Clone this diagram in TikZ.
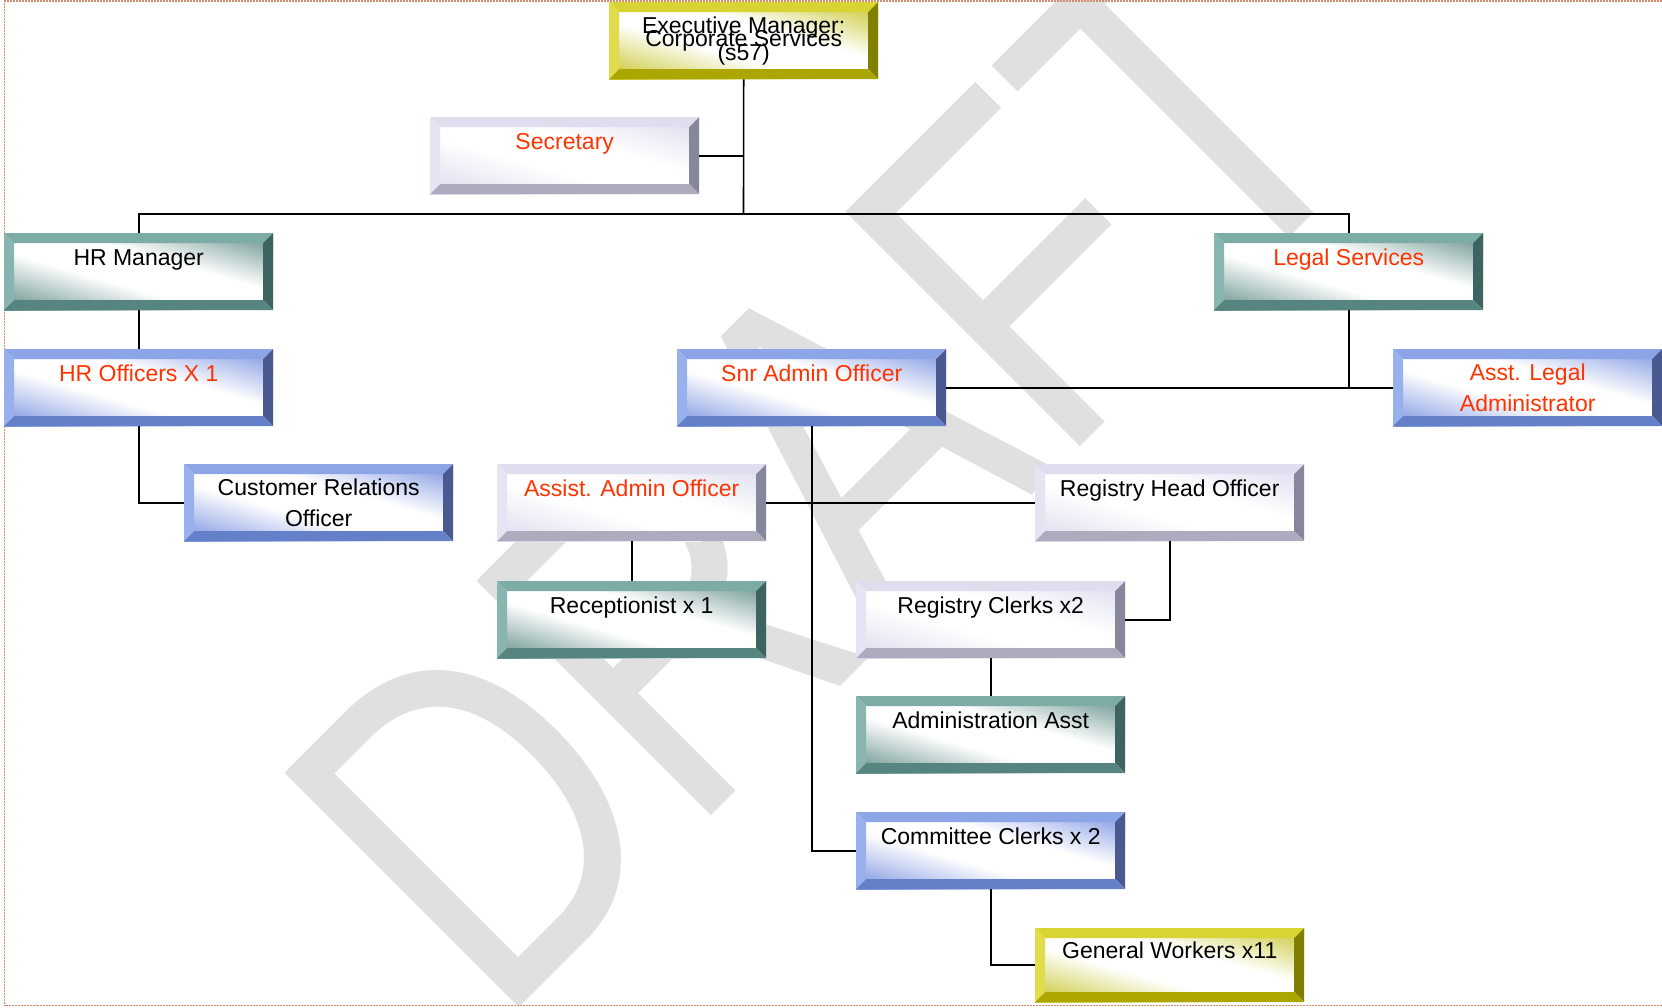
\documentclass[tikz,border=0pt]{standalone}
\usepackage{fontspec}
\setmainfont{Liberation Sans}
\usetikzlibrary{calc,positioning}
\definecolor{orgred}{RGB}{255,51,0}
\definecolor{yTop}{RGB}{216,212,52}
\definecolor{yLeft}{RGB}{224,220,76}
\definecolor{yRight}{RGB}{128,128,0}
\definecolor{yBot}{RGB}{172,166,0}
\definecolor{yFill}{RGB}{198,196,40}
\definecolor{bTop}{RGB}{140,165,230}
\definecolor{bLeft}{RGB}{152,176,236}
\definecolor{bRight}{RGB}{74,90,144}
\definecolor{bBot}{RGB}{100,128,200}
\definecolor{bFill}{RGB}{120,145,225}
\definecolor{tTop}{RGB}{125,172,166}
\definecolor{tLeft}{RGB}{136,181,176}
\definecolor{tRight}{RGB}{62,100,98}
\definecolor{tBot}{RGB}{86,132,128}
\definecolor{tFill}{RGB}{95,140,135}
\definecolor{lTop}{RGB}{222,222,238}
\definecolor{lLeft}{RGB}{228,228,242}
\definecolor{lRight}{RGB}{135,135,155}
\definecolor{lBot}{RGB}{172,172,190}
\definecolor{lFill}{RGB}{218,218,238}
\definecolor{framec}{RGB}{212,140,108}
\colorlet{bevfillc}{white}
\newcommand\bvw{10pt}

\begin{document}
\begin{tikzpicture}[
    x=1pt, y=-1pt,
    bevel/.style n args={5}{rectangle, anchor=north west, inner sep=0pt,
        minimum width=269pt, minimum height=77pt, align=center,
        font=\fontsize{23}{31}\selectfont, fill=white,
        path picture={
            \path (path picture bounding box.north west) coordinate (pnw)
                  (path picture bounding box.south east) coordinate (pse)
                  (path picture bounding box.center) coordinate (pc);
            \colorlet{bevfillc}{#5}
            % diagonal gradient: white along the box diagonal, colour in two corners
            \foreach \k in {0,...,27} {
                \pgfmathsetmacro\pct{100*(\k+0.5)/28}
                \pgfmathsetmacro\da{18+56*\k/28}
                \pgfmathsetmacro\db{18+56*(\k+1)/28+0.6}
                \fill[bevfillc!\pct!white] ($(pc)+(164:160pt)+(74:\da pt)$) -- ($(pc)+(-16:160pt)+(74:\da pt)$)
                    -- ($(pc)+(-16:160pt)+(74:\db pt)$) -- ($(pc)+(164:160pt)+(74:\db pt)$) -- cycle;
                \fill[bevfillc!\pct!white] ($(pc)+(164:160pt)+(254:\da pt)$) -- ($(pc)+(-16:160pt)+(254:\da pt)$)
                    -- ($(pc)+(-16:160pt)+(254:\db pt)$) -- ($(pc)+(164:160pt)+(254:\db pt)$) -- cycle;
            }
            \fill[#1] (pnw) -- (pnw -| pse) -- ($(pnw -| pse)+(-\bvw,-\bvw)$) -- ($(pnw)+(\bvw,-\bvw)$) -- cycle;
            \fill[#2] (pnw) -- ($(pnw)+(\bvw,-\bvw)$) -- ($(pnw |- pse)+(\bvw,\bvw)$) -- (pnw |- pse) -- cycle;
            \fill[#3] (pnw -| pse) -- (pse) -- ($(pse)+(-\bvw,\bvw)$) -- ($(pnw -| pse)+(-\bvw,-\bvw)$) -- cycle;
            \fill[#4] (pnw |- pse) -- (pse) -- ($(pse)+(-\bvw,\bvw)$) -- ($(pnw |- pse)+(\bvw,\bvw)$) -- cycle;
        }},
    yellowbox/.style={bevel={yTop}{yLeft}{yRight}{yBot}{yFill}},
    bluebox/.style={bevel={bTop}{bLeft}{bRight}{bBot}{bFill}},
    tealbox/.style={bevel={tTop}{tLeft}{tRight}{tBot}{tFill}},
    lavbox/.style={bevel={lTop}{lLeft}{lRight}{lBot}{lFill}},
    oneline/.style={text height=17pt, text depth=30pt},
    conn/.style={line width=1.6pt, black},
    frame/.style={framec, line width=1.2pt, dash pattern=on 2pt off 1pt},
    watermark/.style={font=\fontsize{482}{482}\selectfont, text=black!12,
        inner sep=0pt, anchor=base west, rotate=45, xscale=.78}
]
\useasboundingbox (0,0) rectangle (1662,1007);

% watermark
\begin{scope}
\clip (0,0) rectangle (1662,1007);
\node[watermark] (draft) at (497,1030) {DRAFT};
\end{scope}
\draw[frame] (1662,1) -- (4.5,1) -- (4.5,1005.5) -- (1662,1005.5);

% boxes
\node[yellowbox] (exec) at (609,2) {Executive Manager:\\[-17.5pt]Corporate Services\\[-17.5pt](s57)};
\node[lavbox, oneline, text=orgred] (sec) at (430,117) {Secretary};
\node[tealbox, oneline] (hrman) at (4,233) {HR Manager};
\node[tealbox, oneline, text=orgred] (legal) at (1214,233) {Legal Services};
\node[bluebox, oneline, text=orgred] (hroff) at (4,349) {HR Officers X 1};
\node[bluebox, oneline, text=orgred] (snr) at (677,349) {Snr Admin Officer};
\node[bluebox, text=orgred] (asstlegal) at (1393,349) {Asst. Legal\\Administrator};
\node[bluebox] (cro) at (184,464) {Customer Relations\\Officer};
\node[lavbox, oneline, text=orgred] (assist) at (497,464) {Assist. Admin Officer};
\node[lavbox, oneline] (reghead) at (1035,464) {Registry Head Officer};
\node[tealbox, oneline] (recep) at (497,581) {Receptionist x 1};
\node[lavbox, oneline] (regclerk) at (856,581) {Registry Clerks x2};
\node[tealbox, oneline] (adminasst) at (856,696) {Administration Asst};
\node[bluebox, oneline] (committee) at (856,812) {Committee Clerks x 2};
\node[yellowbox, oneline, minimum height=74pt] (general) at (1035,928) {General Workers x11};

% connectors
\coordinate (bus) at (743.5,214);
\draw[conn] (exec.south) -- (bus);
\draw[conn] (sec.east) -- (sec.east -| exec.south);
\draw[conn] (hrman.north) |- (bus) -| (legal.north);
\draw[conn] (hrman.south) -- (hroff.north);
\draw[conn] (hroff.south) |- (cro.west);
\draw[conn] (snr.east) -- (asstlegal.west);
\draw[conn] (legal.south) -- (legal.south |- asstlegal.west);
\draw[conn] (snr.south) |- (committee.west);
\draw[conn] (assist.east) -- (reghead.west);
\draw[conn] (assist.south) -- (recep.north);
\draw[conn] (reghead.south) |- (regclerk.east);
\draw[conn] (regclerk.south) -- (adminasst.north);
\draw[conn] (committee.south) |- (general.west);
\end{tikzpicture}
\end{document}
